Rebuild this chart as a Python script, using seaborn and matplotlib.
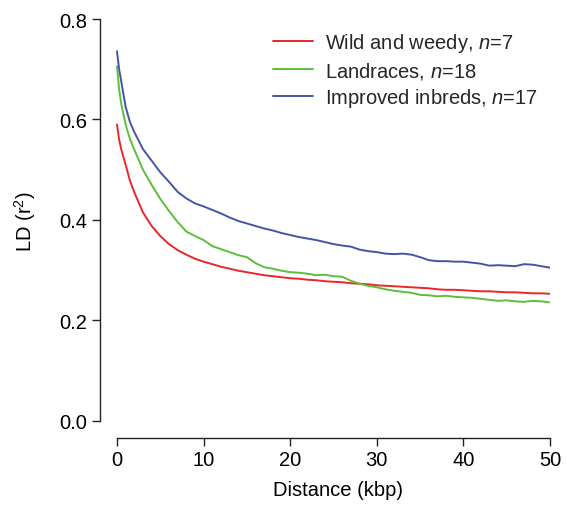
import matplotlib
matplotlib.use("Agg")
import matplotlib.pyplot as plt
import seaborn as sns
import pandas as pd
from matplotlib.lines import Line2D

distance = [0, 0.25, 0.5, 1, 1.5, 2, 3, 4, 5, 6, 7, 8, 9, 10, 11, 12, 13, 14, 15, 16, 17, 18, 19, 20,
            21, 22, 23, 24, 25, 26, 27, 28, 29, 30, 31, 32, 33, 34, 35, 36, 37, 38, 39, 40,
            41, 42, 43, 44, 45, 46, 47, 48, 49, 50]

wild = [0.590, 0.560, 0.540, 0.510, 0.478, 0.455, 0.415, 0.388, 0.368, 0.352, 0.340, 0.331, 0.323, 0.317,
        0.312, 0.307, 0.303, 0.299, 0.296, 0.293, 0.290, 0.288, 0.286, 0.284, 0.283, 0.281, 0.280, 0.278,
        0.277, 0.276, 0.274, 0.273, 0.272, 0.270, 0.269, 0.268, 0.267, 0.266, 0.265, 0.264, 0.262, 0.261,
        0.261, 0.260, 0.259, 0.258, 0.258, 0.257, 0.256, 0.256, 0.255, 0.254, 0.254, 0.253]

landraces = [0.706, 0.660, 0.630, 0.590, 0.561, 0.540, 0.500, 0.470, 0.442, 0.418, 0.396, 0.377, 0.368, 0.360,
             0.348, 0.342, 0.336, 0.330, 0.326, 0.314, 0.306, 0.303, 0.299, 0.296, 0.295, 0.293, 0.290, 0.291,
             0.288, 0.287, 0.279, 0.273, 0.269, 0.266, 0.262, 0.259, 0.257, 0.255, 0.251, 0.250, 0.248, 0.249,
             0.247, 0.246, 0.245, 0.243, 0.241, 0.239, 0.240, 0.238, 0.237, 0.239, 0.238, 0.236]

improved = [0.736, 0.700, 0.675, 0.625, 0.595, 0.575, 0.541, 0.518, 0.495, 0.476, 0.456, 0.443, 0.433, 0.427,
            0.420, 0.413, 0.405, 0.398, 0.393, 0.388, 0.383, 0.379, 0.374, 0.370, 0.366, 0.363, 0.360, 0.356,
            0.352, 0.349, 0.347, 0.341, 0.338, 0.336, 0.333, 0.332, 0.333, 0.331, 0.326, 0.320, 0.318, 0.318,
            0.317, 0.317, 0.315, 0.313, 0.309, 0.310, 0.309, 0.308, 0.312, 0.311, 0.308, 0.305]

groups = ["Wild and weedy", "Landraces", "Improved inbreds"]
labels = ["Wild and weedy, $\\it{n}$=7", "Landraces, $\\it{n}$=18", "Improved inbreds, $\\it{n}$=17"]
colors = ["#e8262b", "#5cbf3a", "#4455a8"]
x_ticks = [0, 10, 20, 30, 40, 50]
y_ticks = [0.0, 0.2, 0.4, 0.6, 0.8]

sns.set_theme(style="ticks")
plt.rcParams["font.family"] = ["Liberation Sans", "DejaVu Sans"]
plt.rcParams["mathtext.fontset"] = "custom"
plt.rcParams["mathtext.rm"] = "Liberation Sans"
plt.rcParams["mathtext.it"] = "Liberation Sans:italic"

FS = 14.5

frames = []
for g, vals in zip(groups, [wild, landraces, improved]):
    frames.append(pd.DataFrame({"distance": distance, "ld": vals, "group": g}))
df = pd.concat(frames, ignore_index=True)

fig = plt.figure(figsize=(5.67, 5.06), dpi=100)
ax = fig.add_axes([100 / 567, 1 - 439 / 506, 450 / 567, 419 / 506])

sns.lineplot(data=df, x="distance", y="ld", hue="group", hue_order=groups,
             palette=colors, linewidth=1.4, ax=ax, legend=False)

ax.set_xlim(-1.96, 50)
ax.set_ylim(-0.034, 0.8)
ax.set_xticks(x_ticks)
ax.set_xticklabels([str(t) for t in x_ticks])
ax.set_yticks(y_ticks)
ax.set_yticklabels([f"{t:.1f}" for t in y_ticks])
for s in ["top", "right"]:
    ax.spines[s].set_visible(False)
ax.spines["left"].set_bounds(0, 0.8)
ax.spines["bottom"].set_bounds(0, 50)
for s in ["left", "bottom"]:
    ax.spines[s].set_color("#222222")
    ax.spines[s].set_linewidth(1.0)
ax.tick_params(direction="out", length=6, width=1.0, colors="#222222",
               labelsize=FS, labelcolor="black", pad=3)

ax.set_xlabel("Distance (kbp)", fontsize=FS, color="black", labelpad=2)
ax.xaxis.set_label_coords((338 - 100) / 450, -0.1)
ax.set_ylabel("LD (r$^2$)", fontsize=FS, color="black", labelpad=6)
ax.yaxis.set_label_coords(-0.138, (439 - 222) / 419)

handles = [Line2D([0], [0], color=c, lw=1.4) for c in colors]
ax.legend(handles, labels, loc="upper left", bbox_to_anchor=(0.362, 0.995),
          frameon=False, fontsize=FS, handlelength=2.0, handletextpad=0.6,
          labelspacing=0.28, borderaxespad=0.2, borderpad=0.3)

fig.savefig("out.png", dpi=100)
